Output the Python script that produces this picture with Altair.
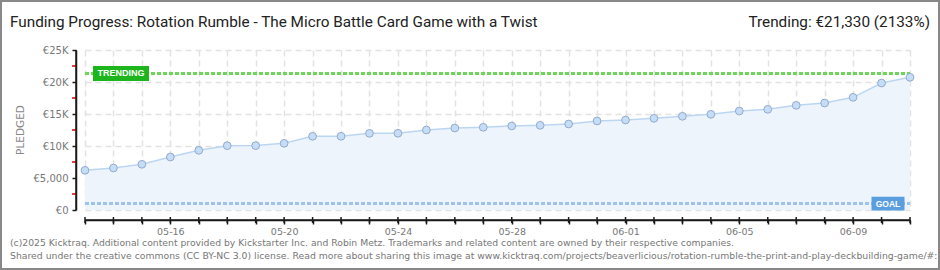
import altair as alt
import pandas as pd

# ---- data ----
dates = pd.date_range("2025-05-13", "2025-06-11", freq="D").strftime("%Y-%m-%d").tolist()
pledged = [6200, 6560, 7140, 8280, 9320, 10050, 10060, 10420, 11510, 11520,
           11980, 11990, 12500, 12810, 12920, 13130, 13230, 13440, 13910, 14060,
           14320, 14640, 14950, 15470, 15730, 16350, 16720, 17600, 19840, 20730]
goal = 1000
trending = 21330
y_ticks = [0, 5000, 10000, 15000, 20000, 25000]
y_minor = [2500, 7500, 12500, 17500, 22500]
x_labels = ["05-16", "05-20", "05-24", "05-28", "06-01", "06-05", "06-09"]

title_text = "Funding Progress: Rotation Rumble - The Micro Battle Card Game with a Twist"
trend_text = "Trending:  €21,330 (2133%)"
footer1 = ("(c)2025 Kicktraq. Additional content provided by Kickstarter Inc. and Robin Metz. "
           "Trademarks and related content are owned by their respective companies.")
footer2 = ("Shared under the creative commons (CC BY-NC 3.0) license. Read more about sharing this image at "
           "www.kicktraq.com/projects/beaverlicious/rotation-rumble-the-print-and-play-deckbuilding-game/#:")

df = pd.DataFrame({"date": dates, "pledged": pledged})
one = pd.DataFrame({"goal": [goal], "trending": [trending]})
minor_df = pd.DataFrame({"v": y_minor})

W, H = 825, 160
AXC = "#1a1a1a"

xdates = [alt.DateTime(year=int(d[:4]), month=int(d[5:7]), date=int(d[8:]), utc=True) for d in dates]
xscale = alt.Scale(type="utc", domain=[xdates[0], xdates[-1]])
yscale = alt.Scale(domain=[0, 25000], nice=False)

lbl_list = "[" + ",".join("'%s'" % s for s in x_labels) + "]"
label_expr_x = ("indexof(%s, utcFormat(datum.value, '%%m-%%d')) >= 0 ? "
                "utcFormat(datum.value, '%%m-%%d') : ''") % lbl_list
label_expr_y = ("datum.value == 0 ? '€0' : datum.value == 5000 ? '€5,000' : "
                "'€' + (datum.value/1000) + 'K'")

X_AXIS = alt.Axis(values=xdates, labelExpr=label_expr_x, title=None, offset=10,
                  labelFontSize=9.5, labelPadding=2, labelAngle=0)
Y_AXIS = alt.Axis(values=y_ticks, labelExpr=label_expr_y, title=None, offset=9,
                  labelFontSize=10, labelPadding=4)

def xenc():
    return alt.X("date:T", scale=xscale, axis=X_AXIS)

def yq(field):
    return alt.Y(field, type="quantitative", scale=yscale, axis=Y_AXIS)

base = alt.Chart(df)

area = base.mark_area(color="#edf4fc", opacity=1).encode(x=xenc(), y=yq("pledged"))

minor = alt.Chart(minor_df).mark_rule(color="#e00000", strokeWidth=1.5).encode(
    x=alt.value(-13), x2=alt.value(-9), y=yq("v"))

# axis lines and day ticks drawn explicitly
yaxis_line = alt.Chart(one).mark_rule(color=AXC, strokeWidth=1.5, opacity=1).encode(
    x=alt.value(-9), x2=alt.value(-9), y=alt.value(0), y2=alt.value(H))
xaxis_line = alt.Chart(one).mark_rule(color=AXC, strokeWidth=1.5, opacity=1).encode(
    x=alt.value(0), x2=alt.value(W), y=alt.value(H + 10), y2=alt.value(H + 10))
xticks = base.mark_rule(color=AXC, strokeWidth=1.5, opacity=1).encode(
    x=xenc(), y=alt.value(H + 7), y2=alt.value(H + 13))

goal_line = alt.Chart(one).mark_rule(color="#9dc3ee", strokeWidth=3, strokeDash=[4, 2]).encode(
    x=alt.value(0), x2=alt.value(W), y=yq("goal"))
trend_line = alt.Chart(one).mark_rule(color="#6fd45c", strokeWidth=3, strokeDash=[4, 2]).encode(
    x=alt.value(0), x2=alt.value(W), y=yq("trending"))

line = base.mark_line(color="#bcd6f2", strokeWidth=1.5).encode(x=xenc(), y=yq("pledged"))
points = base.mark_point(filled=True, fill="#c6ddf7", stroke="#93aacb", strokeWidth=1,
                         size=60, opacity=1, shape="circle").encode(x=xenc(), y=yq("pledged"))

trend_box = alt.Chart(one).mark_point(
    shape="M-1,-0.27L1,-0.27L1,0.27L-1,0.27Z", filled=True, fill="#1cb51c", opacity=1,
    size=3136, strokeWidth=0).encode(x=alt.value(36), y=yq("trending"))
trend_lbl = alt.Chart(one).mark_text(
    text="TRENDING", color="white", font="Liberation Sans", fontWeight="bold", fontSize=9,
    align="center", baseline="middle").encode(x=alt.value(36), y=yq("trending"))

goal_box = alt.Chart(one).mark_point(
    shape="M-1,-0.42L1,-0.42L1,0.42L-1,0.42Z", filled=True, fill="#5b9ee0", opacity=1,
    size=1089, strokeWidth=0).encode(x=alt.value(803), y=yq("goal"))
goal_lbl = alt.Chart(one).mark_text(
    text="GOAL", color="white", font="Liberation Sans", fontWeight="bold", fontSize=8.5,
    align="center", baseline="middle").encode(x=alt.value(803), y=yq("goal"))

def txt(s, x, y, **kw):
    return alt.Chart(one).mark_text(text=s, **kw).encode(x=alt.value(x), y=alt.value(y))

title = txt(title_text, -75, -28, font="Roboto", fontSize=15.3, color="#222", align="left",
            baseline="middle")
trend_t = txt(trend_text, 845, -28, font="Roboto", fontSize=15.3, color="#222", align="right",
              baseline="middle")
pledged_t = txt("PLEDGED", -64, 80, font="DejaVu Sans", fontSize=10.5, color="#888", angle=270,
                align="center", baseline="middle")
f1 = txt(footer1, -75, 193, font="DejaVu Sans", fontSize=9.25, color="#777", align="left",
         baseline="middle")
f2 = txt(footer2, -75, 206, font="DejaVu Sans", fontSize=9.3, color="#777", align="left",
         baseline="middle")

border = alt.Chart(one).mark_rect(fill="transparent", stroke="#888", strokeWidth=2).encode(
    x=alt.value(-84), x2=alt.value(854), y=alt.value(-49), y2=alt.value(219))

chart = alt.layer(
    area, minor, goal_line, trend_line, line, points,
    trend_box, trend_lbl, goal_box, goal_lbl, yaxis_line, xaxis_line, xticks,
    title, trend_t, pledged_t, f1, f2, border
).properties(
    width=W, height=H,
    autosize=alt.AutoSizeParams(type="none"),
    padding={"left": 85, "top": 50, "right": 30, "bottom": 60},
    background="white",
).configure_view(stroke=None).configure_axis(
    domain=True, domainColor=AXC, domainWidth=1.5,
    ticks=True, tickColor=AXC, tickSize=4, tickWidth=1.5,
    labelColor="#777", labelFont="DejaVu Sans",
    labelOverlap=False, labelFlush=False, labelBound=False,
    grid=True, gridColor="#e2e2e2", gridDash=[6, 4], gridWidth=1.5,
)

chart.save("out.html", embed_options={"renderer": "svg", "actions": False})
